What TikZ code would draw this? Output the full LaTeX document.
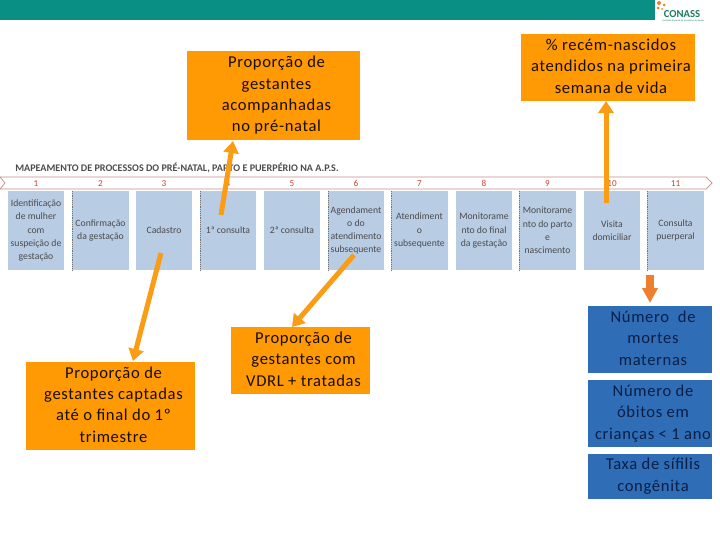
\documentclass[tikz,border=0pt]{standalone}
\usepackage{fontspec}
\setmainfont{Carlito}
\newfontfamily\boxfont{Carlito}[LetterSpace=4]
\usepackage[dvipsnames]{xcolor}
\usetikzlibrary{arrows.meta,positioning,calc}
\definecolor{barteal}{HTML}{0A8F84}
\definecolor{goalorange}{HTML}{FF9A05}
\definecolor{linkorange}{HTML}{FA9C14}
\definecolor{downorange}{HTML}{EE7F2E}
\definecolor{stepblue}{HTML}{B8CCE4}
\definecolor{resultblue}{HTML}{2F6EB6}
\definecolor{bandred}{HTML}{C58A8A}
\definecolor{resulttext}{HTML}{0B1E45}
\definecolor{logogreen}{HTML}{1F7A60}
\newcommand{\boxtext}[1]{\hspace{.15cm}\begin{tabular}{@{}c@{}}#1\end{tabular}}
\tikzset{
  goal/.style={fill=goalorange,font=\boxfont\fontsize{11.8}{15.2}\selectfont,text=black!90!orange,inner sep=0pt},
  result/.style={fill=resultblue,font=\boxfont\fontsize{11.8}{15.5}\selectfont,text=resulttext,inner sep=0pt,minimum width=3.1cm},
  stepbox/.style={fill=stepblue,align=center,font=\fontsize{6.9}{9.4}\selectfont,text=black!70,inner sep=0pt,minimum height=1.975cm},
  stepnum/.style={font=\fontsize{6.5}{7}\selectfont,text=BrickRed!80},
  link/.style={linkorange,line width=.125cm,-{Triangle[length=.3cm,width=.375cm]}},
  sep/.style={black!55,densely dotted,line width=.3pt}
}
\begin{document}
\begin{tikzpicture}[x=.025cm,y=-.025cm]
  \useasboundingbox (0,0) rectangle (720,540);
  % top bar and logo
  \fill[barteal] (0,0) rectangle (655,20);
  \node[text=logogreen,font=\bfseries\fontsize{7.6}{8}\selectfont,inner sep=0pt] (logo) at (682,14) {CONASS};
  \node[text=logogreen,font=\fontsize{1.7}{2}\selectfont,inner sep=0pt,anchor=west] (logosub) at (662,20.5) {Conselho Nacional de Secretários de Saúde};
  \fill[downorange] (659,3) circle[radius=2] (664,5) circle[radius=1.5] (658,8) circle[radius=1.5] (662,9) circle[radius=1];
  % title and band
  \node[anchor=west,inner sep=0pt,font=\bfseries\fontsize{7.2}{8}\selectfont,text=black!70] (title) at (15,168) {MAPEAMENTO DE PROCESSOS DO PRÉ-NATAL, PARTO E PUERPÉRIO NA A.P.S.};
  \draw[bandred,line width=.5pt] (0,177) -- (706,177) -- (712,183) -- (706,189) -- (0,189) -- (5,183) -- cycle;
  % steps
  \foreach \n/\xa/\xb/\txt in {
    1/8/64/{Identificação\\de mulher\\com\\suspeição de\\gestação},
    2/72/129/{Confirmação\\da gestação},
    3/136/192/{Cadastro},
    4/200/256/{1ª consulta},
    5/264/320/{2ª consulta},
    6/328/384/{Agendament\\o do\\atendimento\\subsequente},
    7/391/448/{Atendiment\\o\\subsequente},
    8/456/512/{Monitorame\\nto do final\\da gestação},
    9/519/576/{Monitorame\\nto do parto\\e\\nascimento},
    10/584/640/{Visita\\domiciliar},
    11/647/704/{Consulta\\puerperal}}{
    \node[stepbox,minimum width={(\xb-\xa)*.025cm}] (s\n) at ({(\xa+\xb)/2},230.5) {\txt};
    \node[stepnum] (n\n) at ({(\xa+\xb)/2},183.5) {\n};
  }
  \foreach \xa in {72,200,328,391,519,647}{
    \draw[sep] (\xa,191) -- (\xa,270);
  }
  % indicators
  \node[goal,minimum width=4.325cm,minimum height=2.225cm] (g1) at (273.5,95.5) {\boxtext{Proporção de\\gestantes\\acompanhadas\\no pré-natal}};
  \node[goal,minimum width=4.35cm,minimum height=1.675cm] (g2) at (608,67.5) {\boxtext{\% recém-nascidos\\atendidos na primeira\\semana de vida}};
  \node[goal,minimum width=4.225cm,minimum height=2.2cm] (g3) at (110.5,406) {\boxtext{Proporção de\\gestantes captadas\\até o final do 1º\\trimestre}};
  \node[goal,minimum width=3.475cm,minimum height=1.675cm] (g4) at (300.5,360.5) {\boxtext{Proporção de\\gestantes com\\VDRL + tratadas}};
  \node[result,minimum height=1.675cm] (r1) at (650,339.5) {\boxtext{Número~ de\\mortes\\maternas}};
  \node[result,minimum height=1.675cm] (r2) at (650,413.5) {\boxtext{Número de\\óbitos em\\crianças < 1 ano}};
  \node[result,minimum height=1.125cm] (r3) at (650,476.5) {\boxtext{Taxa de sífilis\\congênita}};
  % links
  \coordinate (c1) at (221,215);
  \coordinate (c2) at (161,253);
  \coordinate (c3) at (354,255);
  \coordinate (c4) at (606,203);
  \coordinate (c5) at (650,275);
  \coordinate (t1) at (233,141);
  \coordinate (t2) at (133,361);
  \coordinate (t3) at (292,327);
  \coordinate (t4) at (606,101);
  \coordinate (t5) at (650,303);
  \draw[link] (c1) -- (t1);
  \draw[link] (c2) -- (t2);
  \draw[link] (c3) -- (t3);
  \draw[link] (c4) -- (t4);
  \draw[downorange,line width=.2cm,-{Triangle[length=.375cm,width=.375cm]}] (c5) -- (t5);
\end{tikzpicture}
\end{document}
